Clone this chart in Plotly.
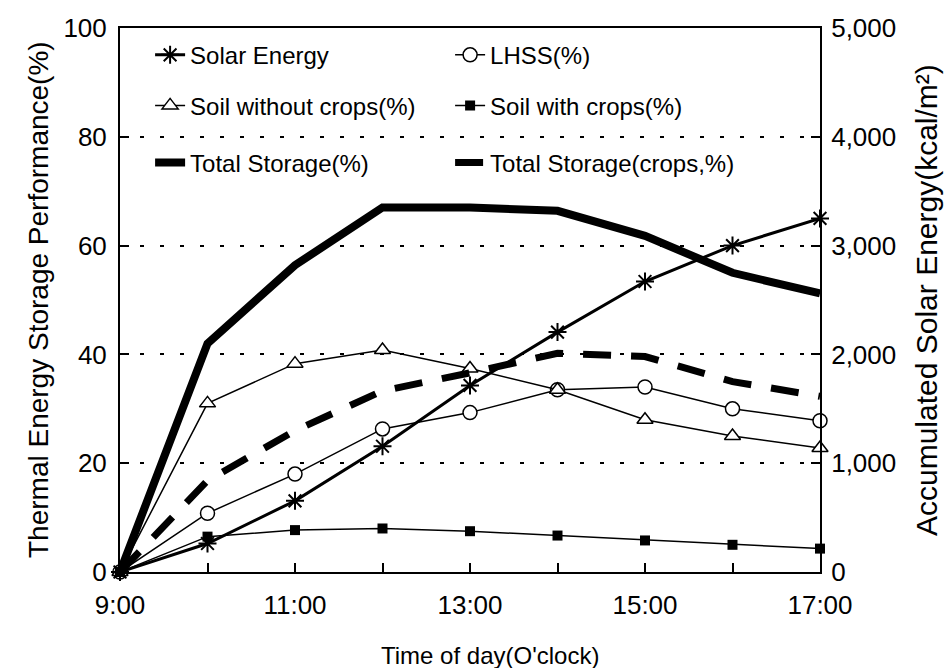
import plotly.graph_objects as go

hours = [9, 10, 11, 12, 13, 14, 15, 16, 17]
hour_labels = ["9:00", "", "11:00", "", "13:00", "", "15:00", "", "17:00"]
solar_energy = [0, 262, 654, 1156, 1715, 2205, 2670, 3000, 3250]
lhss = [0, 10.8, 18.0, 26.3, 29.3, 33.5, 34.0, 30.0, 27.8]
soil_without = [0, 31.0, 38.3, 40.8, 37.4, 33.5, 28.0, 25.0, 22.8]
soil_with = [0, 6.5, 7.7, 8.0, 7.5, 6.7, 5.8, 5.0, 4.3]
total_storage = [0, 42.0, 56.4, 67.0, 67.0, 66.4, 61.8, 55.0, 51.2]
total_crops = [0, 16.8, 26.0, 33.3, 36.6, 40.2, 39.6, 35.0, 32.3]

FONT = "Liberation Sans, Arial, sans-serif"
fig = go.Figure()

# row 1
fig.add_trace(go.Scatter(x=hours, y=solar_energy, yaxis="y2", name="Solar Energy",
                         mode="lines+markers", line=dict(color="black", width=3),
                         marker=dict(symbol="asterisk-open", size=15, color="black",
                                     line=dict(color="black", width=2)),
                         cliponaxis=False, legend="legend"))
fig.add_trace(go.Scatter(x=hours, y=lhss, name="LHSS(%)",
                         mode="lines+markers", line=dict(color="black", width=1.5),
                         marker=dict(symbol="circle", size=14, color="white",
                                     line=dict(color="black", width=1.5)),
                         cliponaxis=False, legend="legend"))
# row 2
fig.add_trace(go.Scatter(x=hours, y=soil_without, name="Soil without crops(%)",
                         mode="lines+markers", line=dict(color="black", width=1.5),
                         marker=dict(symbol="triangle-up", size=14, color="white",
                                     line=dict(color="black", width=1.5)),
                         cliponaxis=False, legend="legend2"))
fig.add_trace(go.Scatter(x=hours, y=soil_with, name="Soil with crops(%)",
                         mode="lines+markers", line=dict(color="black", width=1.5),
                         marker=dict(symbol="square", size=10, color="black"),
                         cliponaxis=False, legend="legend2"))
# row 3
fig.add_trace(go.Scatter(x=hours, y=total_storage, name="Total Storage(%)",
                         mode="lines", line=dict(color="black", width=8),
                         cliponaxis=False, legend="legend3"))
fig.add_trace(go.Scatter(x=hours, y=total_crops, name="Total Storage(crops,%)",
                         mode="lines", line=dict(color="black", width=7, dash="28px,20px"),
                         cliponaxis=False, legend="legend3"))

leg_common = dict(orientation="h", xanchor="left", yanchor="middle",
                  entrywidth=255, bgcolor="rgba(0,0,0,0)",
                  font=dict(family=FONT, size=24, color="black"))
x_leg = 0.043

fig.update_layout(
    width=950, height=668,
    margin=dict(l=120, r=130, t=28, b=96),
    paper_bgcolor="white", plot_bgcolor="white",
    font=dict(family=FONT, size=24, color="black"),
    showlegend=True,
    legend=dict(x=x_leg, y=0.950, **leg_common),
    legend2=dict(x=x_leg, y=0.857, **leg_common),
    legend3=dict(x=x_leg, y=0.752, **leg_common),
    xaxis=dict(range=[9, 17], tickvals=hours, ticktext=hour_labels,
               ticks="inside", ticklen=9, tickwidth=2, tickcolor="black",
               showline=True, linecolor="black", linewidth=2, mirror=True,
               showgrid=False, zeroline=False, ticklabelstandoff=9,
               tickfont=dict(family=FONT, size=26)),
    yaxis=dict(range=[0, 100], tickvals=[0, 20, 40, 60, 80, 100],
               ticks="inside", ticklen=9, tickwidth=2, tickcolor="black",
               showline=True, linecolor="black", linewidth=2,
               showgrid=True, gridcolor="black", gridwidth=1.5, griddash="4px,16px",
               zeroline=False, ticklabelstandoff=6,
               tickfont=dict(family=FONT, size=26)),
    yaxis2=dict(range=[0, 5000], tickvals=[0, 1000, 2000, 3000, 4000, 5000],
                tickformat=",d", overlaying="y", side="right",
                ticks="inside", ticklen=9, tickwidth=2, tickcolor="black",
                showline=True, linecolor="black", linewidth=2,
                showgrid=False, zeroline=False, ticklabelstandoff=4,
                tickfont=dict(family=FONT, size=26)),
    annotations=[
        dict(text="Thermal Energy Storage Performance(%)", xref="paper", yref="paper",
             x=0, y=0.5, xshift=-82, textangle=-90, showarrow=False,
             xanchor="center", yanchor="middle", font=dict(family=FONT, size=28)),
        dict(text="Accumulated Solar Energy(kcal/m²)", xref="paper", yref="paper",
             x=1, y=0.5, xshift=106, textangle=-90, showarrow=False,
             xanchor="center", yanchor="middle", font=dict(family=FONT, size=30)),
        dict(text="Time of day(O'clock)", xref="paper", yref="paper",
             x=0.5, y=0, xshift=20, yshift=-83, showarrow=False,
             xanchor="center", yanchor="middle", font=dict(family=FONT, size=24)),
    ],
)

fig.write_html("out.html")
